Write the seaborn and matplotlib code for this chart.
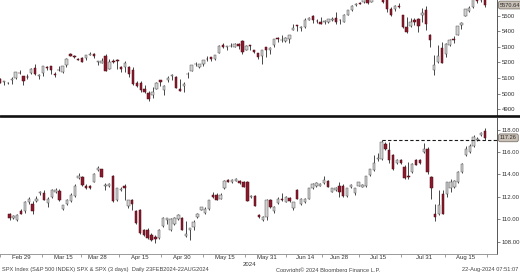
import numpy as np
import pandas as pd
import matplotlib
matplotlib.use("Agg")
import matplotlib.pyplot as plt
from matplotlib.lines import Line2D
from matplotlib import transforms
import seaborn as sns

# ---------------- data ----------------
holidays = ["2024-03-29", "2024-05-27", "2024-06-19", "2024-07-04"]
dates = pd.bdate_range("2024-02-26", "2024-08-22", freq="C", holidays=holidays)

spx_open = [5093.00, 5074.60, 5067.20, 5085.36, 5098.51, 5130.99, 5110.52, 5108.03, 5132.38, 5164.46,
            5111.96, 5134.30, 5173.49, 5175.14, 5123.31, 5154.77, 5139.09, 5181.69, 5253.43, 5242.48,
            5219.52, 5228.85, 5226.31, 5248.03, 5257.97, 5204.29, 5194.37, 5244.05, 5158.95, 5211.37,
            5217.03, 5167.88, 5172.95, 5171.51, 5149.67, 5064.59, 5068.97, 5031.52, 5005.44, 4987.33,
            5028.85, 5084.86, 5019.88, 5084.65, 5114.13, 5103.78, 5029.03, 5049.32, 5122.78, 5142.42,
            5187.20, 5168.98, 5189.03, 5225.49, 5233.08, 5221.10, 5263.26, 5310.07, 5303.10, 5305.35,
            5298.69, 5319.28, 5340.26, 5281.45, 5315.91, 5278.73, 5259.77, 5243.21, 5297.15, 5278.24,
            5314.48, 5357.80, 5343.81, 5341.22, 5353.00, 5409.13, 5441.93, 5424.08, 5431.11, 5476.15,
            5499.99, 5466.77, 5459.58, 5460.73, 5460.71, 5473.59, 5488.48, 5471.08, 5461.84, 5507.44,
            5537.91, 5572.75, 5584.24, 5591.26, 5635.21, 5590.76, 5638.16, 5644.09, 5610.07, 5608.56,
            5543.37, 5545.63, 5565.30, 5505.84, 5428.70, 5433.67, 5476.55, 5478.73, 5505.59, 5537.84,
            5376.63, 5151.14, 5206.42, 5293.13, 5252.57, 5312.70, 5351.88, 5376.98, 5442.71, 5501.13,
            5530.50, 5557.23, 5608.30, 5603.09, 5637.77]
spx_high = [5097.66, 5080.69, 5077.37, 5104.99, 5140.33, 5149.67, 5114.54, 5127.97, 5165.62, 5189.26,
            5124.66, 5179.87, 5179.14, 5176.85, 5136.86, 5175.60, 5180.31, 5226.19, 5261.10, 5246.09,
            5229.09, 5235.16, 5249.26, 5264.85, 5263.95, 5208.34, 5228.75, 5256.59, 5222.18, 5219.57,
            5224.81, 5178.43, 5211.78, 5175.03, 5168.43, 5079.84, 5077.96, 5056.66, 5019.02, 5038.84,
            5076.12, 5089.48, 5057.75, 5114.62, 5123.49, 5110.83, 5096.12, 5073.21, 5139.12, 5181.00,
            5200.23, 5191.95, 5215.30, 5239.66, 5237.26, 5250.37, 5311.76, 5325.49, 5305.45, 5325.32,
            5324.32, 5323.18, 5341.88, 5311.65, 5315.91, 5282.27, 5260.21, 5280.33, 5302.11, 5298.80,
            5354.16, 5362.35, 5375.08, 5365.79, 5375.95, 5447.25, 5441.93, 5432.39, 5488.50, 5490.38,
            5505.53, 5478.31, 5490.66, 5472.88, 5483.14, 5490.81, 5523.64, 5479.55, 5509.69, 5539.27,
            5570.33, 5583.11, 5590.75, 5635.39, 5642.45, 5655.56, 5666.94, 5669.67, 5622.49, 5614.05,
            5557.50, 5570.36, 5585.34, 5508.04, 5491.59, 5488.32, 5487.74, 5489.46, 5551.51, 5566.16,
            5383.89, 5250.89, 5312.34, 5330.64, 5328.03, 5351.79, 5371.20, 5436.50, 5463.22, 5546.23,
            5561.98, 5608.30, 5620.51, 5632.68, 5643.22]
spx_low = [5068.91, 5057.29, 5058.35, 5061.89, 5094.16, 5127.18, 5056.82, 5092.22, 5128.21, 5117.50,
           5091.14, 5114.48, 5151.88, 5123.30, 5104.35, 5145.47, 5131.59, 5171.55, 5240.66, 5229.87,
           5216.09, 5203.42, 5213.92, 5245.82, 5229.20, 5184.05, 5194.37, 5146.06, 5157.21, 5197.35,
           5160.78, 5138.70, 5138.77, 5107.94, 5052.47, 5039.83, 5007.25, 5001.89, 4953.56, 4969.40,
           5027.96, 5047.02, 4990.58, 5073.14, 5088.65, 5035.31, 5013.45, 5011.05, 5101.22, 5142.42,
           5178.96, 5165.86, 5180.41, 5209.68, 5211.16, 5217.98, 5263.26, 5296.19, 5283.59, 5302.40,
           5297.87, 5286.01, 5256.93, 5278.39, 5280.89, 5262.70, 5222.10, 5191.68, 5234.32, 5257.63,
           5297.64, 5335.36, 5331.33, 5331.52, 5327.25, 5409.13, 5402.51, 5403.75, 5420.40, 5471.32,
           5455.56, 5452.03, 5447.59, 5446.56, 5451.87, 5467.54, 5451.12, 5446.53, 5458.43, 5507.42,
           5531.63, 5562.51, 5574.57, 5586.44, 5576.53, 5590.44, 5614.05, 5639.02, 5584.81, 5522.81,
           5497.04, 5529.04, 5550.90, 5419.98, 5390.95, 5430.70, 5444.44, 5397.28, 5461.99, 5410.42,
           5302.03, 5119.26, 5193.56, 5195.54, 5233.85, 5306.47, 5324.37, 5376.98, 5415.23, 5501.13,
           5525.17, 5550.74, 5585.50, 5591.57, 5560.95]
spx_close = [5069.53, 5078.18, 5069.76, 5096.27, 5137.08, 5130.95, 5078.65, 5104.76, 5157.36, 5123.69,
             5117.94, 5175.27, 5165.31, 5150.48, 5117.09, 5149.42, 5178.51, 5224.62, 5241.53, 5234.18,
             5218.19, 5203.58, 5248.49, 5254.35, 5243.77, 5205.81, 5211.49, 5147.21, 5204.34, 5202.39,
             5209.91, 5160.64, 5199.06, 5123.41, 5061.82, 5051.41, 5022.21, 5011.12, 4967.23, 5010.60,
             5070.55, 5071.63, 5048.42, 5099.96, 5116.17, 5035.69, 5018.39, 5064.20, 5127.79, 5180.74,
             5187.70, 5187.67, 5214.08, 5222.68, 5221.42, 5246.68, 5308.15, 5297.10, 5303.27, 5308.13,
             5321.41, 5307.01, 5267.84, 5304.72, 5306.04, 5266.95, 5235.48, 5277.51, 5283.40, 5291.34,
             5354.03, 5352.96, 5346.99, 5360.79, 5375.32, 5421.03, 5433.74, 5431.60, 5473.23, 5487.03,
             5473.17, 5464.62, 5447.87, 5469.30, 5477.90, 5482.87, 5460.48, 5475.09, 5509.01, 5537.02,
             5567.19, 5572.85, 5576.98, 5633.91, 5584.54, 5615.35, 5631.22, 5667.20, 5588.27, 5544.59,
             5505.00, 5564.41, 5555.74, 5427.13, 5399.22, 5459.10, 5463.54, 5436.44, 5522.30, 5446.68,
             5346.56, 5186.33, 5240.03, 5199.50, 5319.31, 5344.16, 5344.39, 5434.43, 5455.21, 5543.22,
             5554.25, 5608.25, 5597.12, 5620.85, 5570.64]

rel_open = [110.45, 110.15, 109.95, 110.75, 110.70, 111.50, 111.40, 111.60, 112.30, 112.30,
            111.45, 112.00, 112.40, 112.55, 110.90, 111.35, 111.60, 112.10, 113.65, 113.80,
            113.00, 113.00, 113.35, 114.40, 114.45, 112.95, 112.95, 113.85, 111.70, 112.60,
            112.98, 111.15, 111.70, 110.75, 110.80, 109.00, 109.00, 108.60, 108.45, 108.30,
            109.40, 109.90, 109.05, 109.60, 110.00, 110.10, 108.55, 109.00, 109.30, 110.20,
            110.85, 110.60, 110.90, 112.15, 112.20, 111.85, 112.75, 113.50, 113.30, 113.45,
            113.40, 113.35, 113.35, 111.95, 112.10, 110.40, 109.90, 110.20, 111.70, 110.70,
            111.45, 111.80, 111.55, 111.90, 111.00, 112.60, 111.40, 111.55, 111.85, 112.75,
            112.95, 113.00, 113.20, 113.40, 112.45, 112.60, 113.00, 113.00, 112.05, 112.90,
            112.30, 113.00, 112.90, 112.95, 113.95, 114.40, 115.35, 115.40, 116.75, 116.20,
            115.70, 114.98, 115.30, 114.68, 113.90, 114.20, 115.30, 115.30, 116.00, 116.30,
            113.80, 110.50, 110.50, 112.24, 112.24, 112.75, 112.90, 113.30, 114.20, 115.70,
            116.00, 116.50, 117.10, 117.50, 117.90]
rel_high = [110.60, 110.40, 110.50, 110.90, 111.65, 112.00, 111.60, 112.10, 112.50, 112.60,
            111.95, 112.70, 112.80, 112.70, 111.30, 111.80, 112.30, 113.10, 114.10, 113.90,
            113.10, 113.05, 114.10, 114.75, 114.50, 113.20, 113.20, 113.95, 112.80, 112.85,
            113.10, 111.75, 111.80, 110.85, 110.90, 109.10, 109.20, 108.75, 108.60, 109.10,
            110.20, 110.15, 110.10, 110.20, 110.50, 110.20, 109.80, 109.25, 109.90, 110.60,
            111.10, 111.05, 111.75, 112.40, 112.30, 112.30, 113.50, 113.60, 113.60, 113.70,
            113.50, 113.40, 113.45, 112.20, 112.20, 110.50, 110.25, 111.80, 111.80, 111.20,
            111.95, 112.30, 112.10, 112.00, 111.55, 112.70, 111.90, 111.90, 112.80, 113.20,
            113.30, 113.25, 113.90, 113.50, 112.80, 112.85, 113.35, 113.10, 112.80, 113.10,
            112.80, 113.35, 113.10, 113.90, 114.50, 115.70, 115.90, 117.05, 116.85, 116.90,
            115.80, 115.40, 115.40, 114.80, 115.10, 115.05, 115.40, 115.40, 116.80, 116.40,
            113.90, 111.40, 112.60, 112.60, 113.30, 113.60, 113.50, 114.30, 115.00, 116.50,
            116.70, 117.50, 117.35, 117.80, 118.10]
rel_low = [109.95, 110.00, 109.85, 110.45, 110.60, 111.40, 110.50, 111.50, 112.20, 111.70,
           111.05, 111.90, 112.30, 111.65, 110.80, 111.30, 111.50, 112.00, 113.60, 113.00,
           112.70, 112.70, 113.30, 114.30, 113.75, 112.60, 112.85, 111.50, 111.60, 112.50,
           111.70, 111.00, 110.80, 109.55, 108.70, 108.50, 108.20, 108.05, 107.90, 108.20,
           109.35, 109.60, 108.95, 109.50, 109.90, 109.00, 108.40, 108.15, 109.00, 110.10,
           110.80, 110.50, 110.85, 111.90, 111.70, 111.80, 112.70, 113.30, 113.25, 113.40,
           113.15, 112.85, 111.60, 111.90, 111.15, 110.15, 109.85, 109.90, 111.00, 110.60,
           111.40, 111.60, 111.50, 111.55, 110.80, 111.80, 111.30, 111.45, 111.80, 112.70,
           112.90, 112.95, 113.10, 112.85, 112.40, 112.55, 112.00, 112.00, 112.00, 112.80,
           112.20, 112.95, 112.85, 112.90, 113.90, 114.30, 115.20, 115.30, 116.20, 115.00,
           114.40, 114.90, 114.90, 113.60, 113.60, 114.10, 114.80, 114.90, 115.90, 114.00,
           111.85, 109.80, 110.35, 110.45, 112.00, 112.45, 112.80, 113.20, 114.10, 115.60,
           115.90, 116.40, 116.95, 117.40, 117.10]
rel_close = [110.10, 110.25, 110.35, 110.50, 111.55, 111.80, 110.70, 111.85, 112.40, 111.75,
             111.85, 112.60, 112.65, 111.70, 111.25, 111.75, 112.20, 113.00, 113.90, 113.05,
             112.80, 112.75, 114.05, 114.55, 113.80, 113.05, 113.15, 111.60, 112.75, 112.70,
             112.75, 111.70, 111.40, 109.65, 108.75, 108.60, 108.30, 108.15, 108.20, 109.00,
             110.10, 110.10, 110.05, 110.10, 110.40, 109.05, 108.65, 109.20, 109.75, 110.50,
             111.05, 110.95, 111.70, 111.95, 111.75, 112.20, 113.45, 113.35, 113.50, 113.55,
             113.20, 112.90, 111.65, 112.10, 111.20, 110.20, 110.20, 111.70, 111.10, 111.10,
             111.85, 111.70, 112.00, 111.60, 111.50, 111.85, 111.80, 111.80, 112.75, 113.10,
             113.25, 113.15, 113.50, 112.90, 112.75, 112.75, 112.45, 112.05, 112.75, 113.05,
             112.75, 113.30, 113.05, 113.85, 114.45, 115.05, 115.45, 116.90, 116.30, 115.30,
             114.45, 115.30, 114.98, 113.64, 113.75, 114.95, 114.85, 114.98, 116.30, 114.20,
             112.75, 110.20, 111.26, 110.50, 113.28, 113.28, 113.40, 114.20, 114.90, 116.30,
             116.50, 117.30, 117.20, 117.70, 117.26]

spx_ticks = [4900, 5000, 5100, 5200, 5300, 5400, 5500]
rel_ticks = [108, 110, 112, 114, 116, 118]
tick_dates = ["2024-02-29", "2024-03-15", "2024-03-28", "2024-04-15", "2024-04-30", "2024-05-15",
              "2024-05-31", "2024-06-14", "2024-06-28", "2024-07-15", "2024-07-31", "2024-08-15"]
resistance_level = 117.1
resistance_from = "2024-07-16"

spx = pd.DataFrame({"date": dates, "open": spx_open, "high": spx_high, "low": spx_low, "close": spx_close})
rel = pd.DataFrame({"date": dates, "open": rel_open, "high": rel_high, "low": rel_low, "close": rel_close})
for df in (spx, rel):
    df["x"] = np.arange(len(df))

# ---------------- style ----------------
sns.set_theme(style="white")
plt.rcParams["font.family"] = ["Liberation Sans", "DejaVu Sans"]
TXT = "#333333"
UP_FILL, UP_EDGE = "#d2d2d2", "#505050"
DN_FILL, DN_EDGE = "#8a1a2c", "#4a0c16"

W, H = 520, 272
fig = plt.figure(figsize=(W / 100, H / 100), dpi=100)
fig.patch.set_facecolor("white")


def rect(x0, y0, x1, y1):
    return [x0 / W, 1 - y1 / H, (x1 - x0) / W, (y1 - y0) / H]


ax1 = fig.add_axes(rect(0, 0, 497, 116))
ax2 = fig.add_axes(rect(0, 118, 497, 254))


def candles(ax, df, minh):
    up = df["close"] >= df["open"]
    body_lo = np.minimum(df["open"], df["close"])
    body_h = np.maximum((df["close"] - df["open"]).abs(), minh)
    ax.vlines(df["x"], df["low"], df["high"], color="#151515", lw=0.55, zorder=1)
    ax.bar(df["x"], body_h, bottom=body_lo, width=0.62,
           color=np.where(up, UP_FILL, DN_FILL), edgecolor=np.where(up, UP_EDGE, DN_EDGE),
           linewidth=0.35, zorder=2)


candles(ax1, spx, 3.0)
candles(ax2, rel, 0.05)

xlim = (0.0, 127.1)
for ax in (ax1, ax2):
    ax.set_xlim(*xlim)
    ax.set_facecolor("white")
    for s in ("top", "left", "bottom"):
        ax.spines[s].set_visible(False)
    ax.spines["right"].set_color("#555555")
    ax.spines["right"].set_linewidth(0.7)
    ax.yaxis.tick_right()
    ax.tick_params(axis="y", which="both", right=True, length=2, width=0.5, color="#555555",
                   labelsize=4.3, labelcolor=TXT, pad=1.5)

ax1.set_ylim(4855, 5603)
ax1.set_yticks(spx_ticks)
ax1.set_yticklabels([f"{v}" for v in spx_ticks])
ax1.set_xticks([])

ax2.set_ylim(106.9, 119.03)
ax2.set_yticks(rel_ticks)
ax2.set_yticklabels([f"{v:.2f}" for v in rel_ticks])
ax2.spines["bottom"].set_visible(True)
ax2.spines["bottom"].set_color("#8a8a8a")
ax2.spines["bottom"].set_linewidth(0.6)

tick_pos = [int(rel.index[rel["date"] == pd.Timestamp(d)][0]) for d in tick_dates]
ax2.set_xticks(tick_pos)
ax2.set_xticklabels([pd.Timestamp(d).strftime("%b %-d") for d in tick_dates])
mid = [(a + b) / 2 for a, b in zip(tick_pos[:-1], tick_pos[1:])]
mid = [tick_pos[0] - (tick_pos[1] - tick_pos[0]) / 2] + mid + [tick_pos[-1] + (tick_pos[-1] - tick_pos[-2]) / 2]
ax2.set_xticks(mid, minor=True)
ax2.tick_params(axis="x", which="major", bottom=True, length=0, labelsize=4.3, labelcolor=TXT, pad=1.0)
ax2.tick_params(axis="x", which="minor", bottom=True, length=2, width=0.5, color="#777777")

# resistance line
x_res = int(rel.index[rel["date"] == pd.Timestamp(resistance_from)][0])
ax2.hlines(resistance_level, x_res, xlim[1], colors="#1a1a1a", linestyles=(0, (3, 2)), lw=0.8, zorder=3)

# last-price boxes
for ax, df, fmt in ((ax1, spx, "{:.2f}"), (ax2, rel, "{:.2f}")):
    last = df["close"].iloc[-1]
    tr = transforms.blended_transform_factory(ax.transAxes, ax.transData)
    ax.text(1.006, last, fmt.format(last), transform=tr, ha="left", va="center", fontsize=4.1,
            color="#2a2a2a", clip_on=False, zorder=5,
            bbox=dict(boxstyle="round,pad=0.25,rounding_size=0.3", fc="#c9c0b6", ec="#6e665e", lw=0.5))

# separator line between panels
ysep = 1 - 116.5 / H
fig.add_artist(Line2D([0, 1], [ysep, ysep], transform=fig.transFigure, color="#111111", lw=1.9))

# year and footer texts
fig.text(249 / W, 1 - 262.0 / H, "2024", ha="center", va="top", fontsize=4.3, color=TXT)
fig.text(2 / W, 1 - 267.5 / H, "SPX Index (S&P 500 INDEX) SPX & SPX (3 days)  Daily 23FEB2024-22AUG2024",
         ha="left", va="top", fontsize=4.1, color="#444444")
fig.text(328 / W, 1 - 267.5 / H, "Copyright\u00a9 2024 Bloomberg Finance L.P.", ha="center", va="top",
         fontsize=4.1, color="#444444")
fig.text(518 / W, 1 - 267.5 / H, "22-Aug-2024 07:51:07", ha="right", va="top", fontsize=4.1, color="#444444")

fig.savefig("out.png", dpi=100, facecolor="white")
